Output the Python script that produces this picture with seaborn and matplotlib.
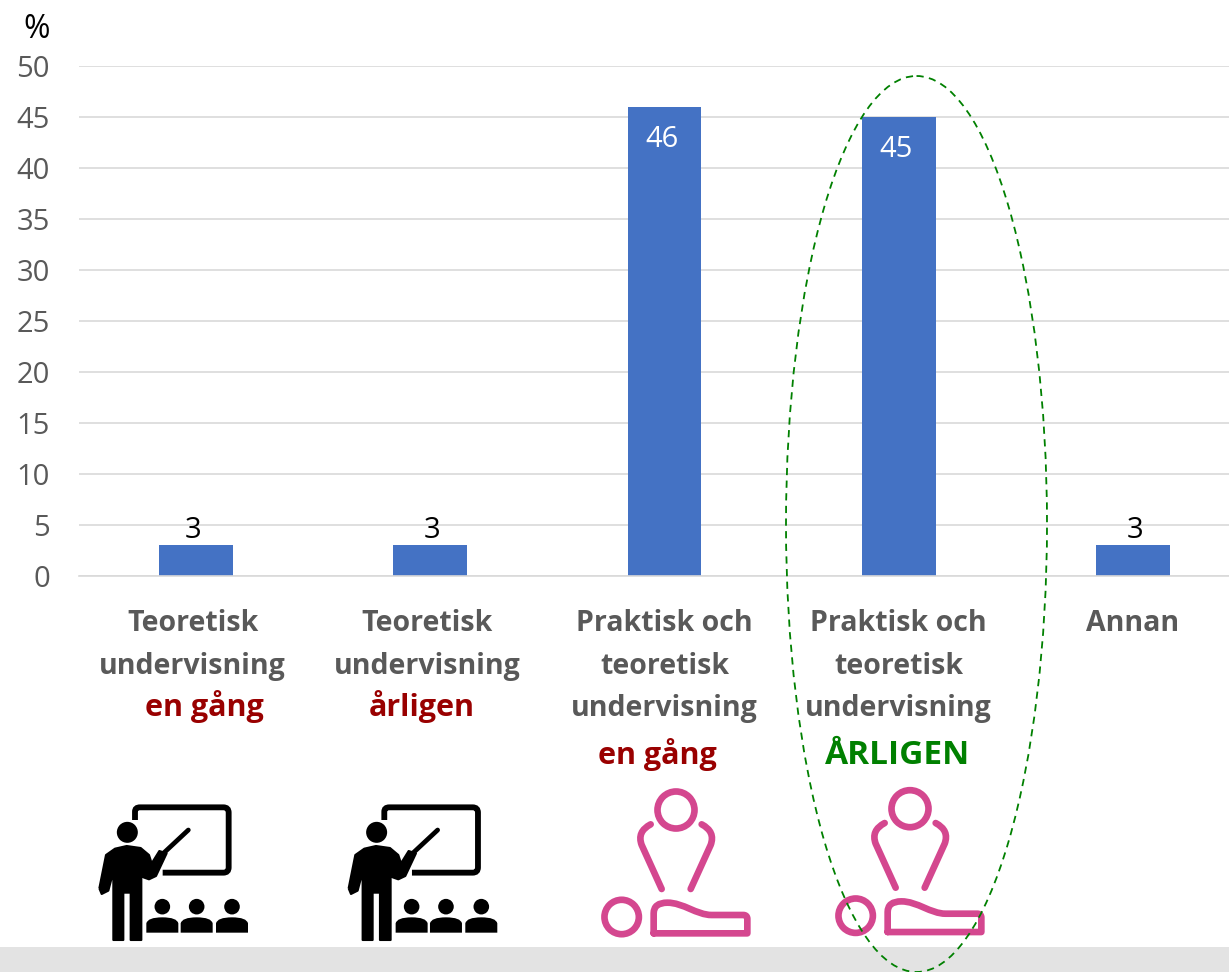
import matplotlib
matplotlib.use("Agg")
import matplotlib.pyplot as plt
from matplotlib.patches import Circle, Ellipse, PathPatch, Rectangle
from matplotlib.path import Path
from matplotlib.transforms import ScaledTranslation
import pandas as pd
import seaborn as sns

# Data
categories = ["Teoretisk en gång", "Teoretisk årligen", "Praktisk en gång", "Praktisk årligen", "Annan"]
values = [3, 3, 46, 45, 3]
tick_labels = [
    "Teoretisk\nundervisning",
    "Teoretisk\nundervisning",
    "Praktisk och\nteoretisk\nundervisning",
    "Praktisk och\nteoretisk\nundervisning",
    "Annan",
]
y_ticks = [0, 5, 10, 15, 20, 25, 30, 35, 40, 45, 50]

GREY = "#595959"
RED = "#990000"
GREEN = "#008000"
PINK = "#d4478f"
W, H = 1229, 972

sns.set_theme(style="white")
plt.rcParams["font.family"] = ["Open Sans", "DejaVu Sans"]

fig = plt.figure(figsize=(W / 100, H / 100), dpi=100)
# the plot runs past the right edge of the picture
ax = fig.add_axes([79 / W, 1 - 576 / H, 1171 / W, 510 / H])

df = pd.DataFrame({"cat": categories, "val": values})
sns.barplot(data=df, x="cat", y="val", color="#4472c4", saturation=1, width=0.315, linewidth=0, ax=ax)
ax.set_xlim(-0.5, 4.5)
ax.set_ylim(0, 50)
ax.set_xlabel("")
ax.set_ylabel("")
sns.despine(ax=ax, left=True, top=True, right=True, bottom=False)
ax.spines["bottom"].set_color("#d9d9d9")
ax.spines["bottom"].set_linewidth(1.2)
ax.set_yticks(y_ticks)
ax.tick_params(axis="y", length=0, pad=21, labelsize=21, labelcolor=GREY)
ax.grid(axis="y", color="#d9d9d9", linewidth=1.2)
ax.set_axisbelow(True)
ax.set_xticks(range(len(categories)))
ax.set_xticklabels(tick_labels, fontsize=20.5, fontweight="bold", color=GREY, linespacing=1.6)
ax.tick_params(axis="x", length=0, pad=24)
# first two labels sit a little left of their bars
for lab in ax.get_xticklabels()[:2]:
    lab.set_transform(lab.get_transform() + ScaledTranslation(-3.5 / 100, 0, fig.dpi_scale_trans))

# Value labels
label_dx = [-2, 1, -2, -2, 1.5]
for bar, val, dx in zip(ax.patches, values, label_dx):
    inside = val > 10
    ax.annotate(
        str(val),
        (bar.get_x() + bar.get_width() / 2, val),
        xytext=(dx, -23.5 if inside else 10.5),
        textcoords="offset points",
        ha="center",
        va="center",
        fontsize=21,
        color="white" if inside else "black",
    )

# Overlay in picture pixels for the band, coloured words, icons and the ring
ov = fig.add_axes([0, 0, 1, 1], facecolor="none")
ov.set_xlim(0, W)
ov.set_ylim(H, 0)
ov.axis("off")

ov.add_patch(Rectangle((0, 947), W, 25, color="#e3e3e3", lw=0, zorder=0))
ov.text(37, 29, "%", fontsize=23, color="black", ha="center", va="center")

for x, y, word, col, size in [
    (204, 706, "en gång", RED, 22),
    (422, 706, "årligen", RED, 22),
    (657, 754, "en gång", RED, 22),
    (898, 755, "ÅRLIGEN", GREEN, 24),
]:
    ov.text(x, y, word, fontsize=size, fontweight="bold", color=col, ha="center", va="center")


def teacher(ox):
    def p(x, y):
        return (x / 3 + ox, y / 3 + 770)

    def shape(pts, codes=None, **kw):
        ov.add_patch(PathPatch(Path([p(*q) for q in pts], codes), **kw))

    M, L, C, Z = Path.MOVETO, Path.LINETO, Path.CURVE3, Path.CLOSEPOLY
    # board
    shape(
        [(165, 150), (165, 125), (165, 112), (180, 112), (430, 112), (446, 112), (446, 128), (446, 292),
         (446, 308), (430, 308), (248, 308)],
        [M, L, C, C, L, C, C, L, C, C, L],
        fc="none", ec="black", lw=4.2, capstyle="butt",
    )
    # teacher
    ov.add_patch(Circle(p(142, 187), 10.5, color="black", lw=0))
    shape(
        [(58, 355), (78, 255), (105, 236), (140, 228), (182, 234), (207, 255), (215, 280),
         (238, 243), (260, 250), (228, 318), (207, 328), (190, 322), (184, 305), (184, 510),
         (152, 510), (152, 368), (130, 368), (130, 510), (100, 510), (100, 305), (85, 362),
         (65, 372), (58, 355)],
        fc="black", ec="black", lw=1.5, joinstyle="round",
    )
    shape([(250, 250), (325, 180)], fc="none", ec="black", lw=3.4, capstyle="round")
    # pupils
    for cx in (247, 350, 456):
        ov.add_patch(Circle(p(cx, 410), 7.8, color="black", lw=0))
        shape(
            [(cx - 48, 488), (cx - 48, 460), (cx - 44, 442), (cx, 442), (cx + 44, 442),
             (cx + 48, 460), (cx + 48, 488), (cx - 48, 488)],
            [M, L, C, C, C, C, L, Z],
            fc="black", ec="none",
        )


def cpr(ox, oy):
    def p(x, y):
        return (x / 3 + ox, y / 3 + oy)

    M, L, C, C4 = Path.MOVETO, Path.LINETO, Path.CURVE3, Path.CURVE4
    style = dict(fc="none", ec=PINK, lw=4.8, capstyle="round", joinstyle="round")
    ov.add_patch(Circle(p(288, 120), 18.5, **style))
    ov.add_patch(Circle(p(125, 441), 17.2, **style))
    ov.add_patch(PathPatch(Path(
        [p(*q) for q in [(212, 163), (170, 185), (185, 225), (245, 357)]], [M, C, C, L]), **style))
    ov.add_patch(PathPatch(Path(
        [p(*q) for q in [(365, 163), (407, 185), (392, 225), (332, 357)]], [M, C, C, L]), **style))
    ov.add_patch(PathPatch(Path(
        [p(*q) for q in [(221, 490), (221, 430), (221, 398), (262, 398), (310, 398), (350, 435),
                         (395, 435), (490, 435), (502, 435), (502, 447), (502, 490), (221, 490)]],
        [M, L, C, C, C4, C4, C4, L, C, C, L, L]), **style))


teacher(80)
teacher(329.3)
cpr(580, 770)
cpr(814, 768.7)

# Ring round the fourth bar
ov.add_patch(Ellipse((916.5, 524), 261, 896, fc="none", ec=GREEN, lw=1.3, ls=(0, (4, 3)), zorder=10))

fig.savefig("out.png", dpi=100)
